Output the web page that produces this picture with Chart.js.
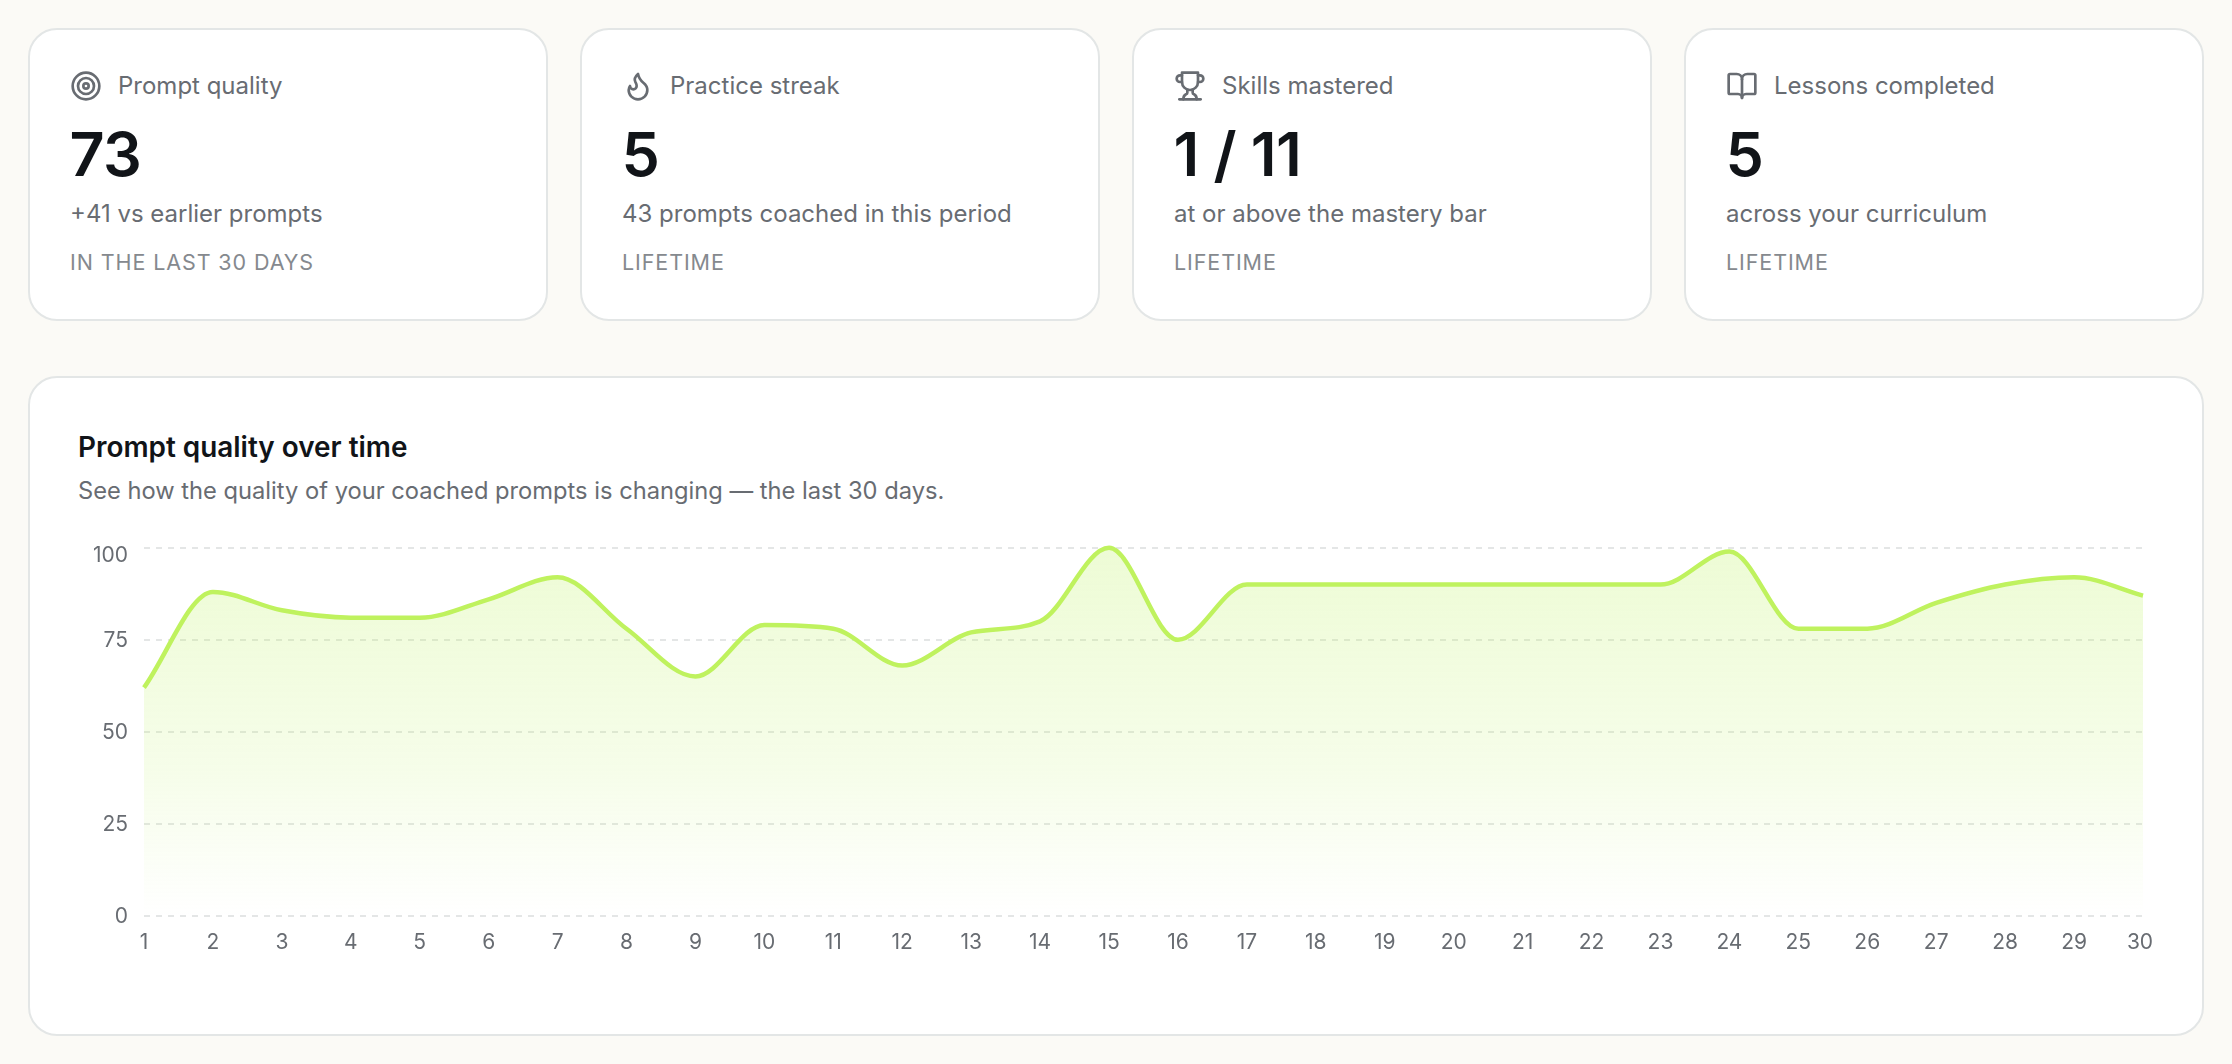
<!DOCTYPE html>
<html><head><meta charset="utf-8">
<script src="https://cdn.jsdelivr.net/npm/chart.js@4"></script>
<style>
html,body{margin:0;padding:0;background:#fbfaf6;width:2232px;height:1064px;overflow:hidden;font-family:Inter,sans-serif}
.card{position:absolute;top:28px;width:519.5px;height:293px;box-sizing:border-box;background:#fff;border:2px solid #e3e6e6;border-radius:29px}
.t{position:absolute;white-space:nowrap;line-height:1}
.ico{position:absolute;left:40px;top:39.5px;width:32px;height:32px;fill:none;stroke:#686c72;stroke-width:2;stroke-linecap:round;stroke-linejoin:round}
.lab{left:88px;top:43.5px;font-size:24px;color:#686c72}
.val{left:39.5px;top:93.5px;font-size:61px;font-weight:600;color:#111418;letter-spacing:-.6px}
.sub{left:40px;top:171.5px;font-size:24px;color:#686c72}
.per{left:40px;top:221.5px;font-size:21.5px;color:#85898e;letter-spacing:.9px}
#panel{position:absolute;left:28px;top:376px;width:2175.5px;height:660px;box-sizing:border-box;background:#fff;border:2px solid #e3e6e6;border-radius:29px}
#title{position:absolute;left:78px;top:433.5px;font-size:27.9px;font-weight:600;color:#111418}
#desc{position:absolute;left:78px;top:478.5px;font-size:23.7px;color:#686c72}
#wrap{position:absolute;left:78px;top:529px;width:2092px;height:430px}
</style></head><body>
<div class="card" style="left:28px"><svg class="ico" viewBox="0 0 24 24"><circle cx="12" cy="12" r="10"/><circle cx="12" cy="12" r="6"/><circle cx="12" cy="12" r="2"/></svg><div class="t lab">Prompt quality</div><div class="t val">73</div><div class="t sub">+41 vs earlier prompts</div><div class="t per">IN THE LAST 30 DAYS</div></div>
<div class="card" style="left:580px"><svg class="ico" viewBox="0 0 24 24"><path d="M8.5 14.5A2.5 2.5 0 0 0 11 12c0-1.38-.5-2-1-3-1.072-2.143-.224-4.054 2-6 .5 2.5 2 4.9 4 6.5 2 1.6 3 3.5 3 5.5a7 7 0 1 1-14 0c0-1.153.433-2.294 1-3a2.5 2.5 0 0 0 2.5 2.5z"/></svg><div class="t lab">Practice streak</div><div class="t val">5</div><div class="t sub">43 prompts coached in this period</div><div class="t per">LIFETIME</div></div>
<div class="card" style="left:1132px"><svg class="ico" viewBox="0 0 24 24"><path d="M6 9H4.5a2.5 2.5 0 0 1 0-5H6"/><path d="M18 9h1.5a2.5 2.5 0 0 0 0-5H18"/><path d="M4 22h16"/><path d="M10 14.66V17c0 .55-.47.98-.97 1.21C7.85 18.75 7 20.24 7 22"/><path d="M14 14.66V17c0 .55.47.98.97 1.21C16.15 18.75 17 20.24 17 22"/><path d="M18 2H6v7a6 6 0 0 0 12 0V2Z"/></svg><div class="t lab">Skills mastered</div><div class="t val">1 / 11</div><div class="t sub">at or above the mastery bar</div><div class="t per">LIFETIME</div></div>
<div class="card" style="left:1684px"><svg class="ico" viewBox="0 0 24 24"><path d="M12 7v14"/><path d="M3 18a1 1 0 0 1-1-1V4a1 1 0 0 1 1-1h5a4 4 0 0 1 4 4 4 4 0 0 1 4-4h5a1 1 0 0 1 1 1v13a1 1 0 0 1-1 1h-6a3 3 0 0 0-3 3 3 3 0 0 0-3-3z"/></svg><div class="t lab">Lessons completed</div><div class="t val">5</div><div class="t sub">across your curriculum</div><div class="t per">LIFETIME</div></div>
<div id="panel"></div>
<div id="title" class="t">Prompt quality over time</div>
<div id="desc" class="t">See how the quality of your coached prompts is changing — the last 30 days.</div>
<div id="wrap"><canvas id="c"></canvas></div>
<script>
const dayLabels = ['1','2','3','4','5','6','7','8','9','10','11','12','13','14','15','16','17','18','19','20','21','22','23','24','25','26','27','28','29','30'];
const qualityValues = [62,88,83,81,81,86,92,78,65,79,78,68,77,80,100,75,90,90,90,90,90,90,90,99,78,78,85,90,92,87];
const yTickValues = [0,25,50,75,100];

const nudgeEdgeLabels = {
  id:'nudgeEdgeLabels',
  beforeDraw(chart){
    chart.scales.y.getLabelItems().forEach(it=>{
      const tr=it.options.translation;
      it.options.translation=[tr[0],tr[1]+(it.label==='100'?8:1)];
    });
    chart.scales.x.getLabelItems().forEach(it=>{ if(it.label==='30') it.options.translation=[it.options.translation[0]-3,it.options.translation[1]]; });
  }
};
new Chart(document.getElementById('c'),{
  type:'line',
  data:{labels:dayLabels,datasets:[{
    data:qualityValues,clip:6,
    borderColor:'#bff25e',borderWidth:4.5,pointRadius:0,
    cubicInterpolationMode:'monotone',fill:'origin',
    backgroundColor(ctx){
      const a=ctx.chart.chartArea; if(!a) return 'rgba(190,242,100,.3)';
      const g=ctx.chart.ctx.createLinearGradient(0,a.top,0,a.bottom);
      g.addColorStop(0,'rgba(190,242,100,.27)');
      g.addColorStop(.6,'rgba(190,242,100,.14)');
      g.addColorStop(1,'rgba(190,242,100,0)');
      return g;
    }
  }]},
  plugins:[nudgeEdgeLabels],
  options:{
    responsive:true,maintainAspectRatio:false,animation:false,
    layout:{padding:{top:18.8,right:27,left:0,bottom:0}},
    plugins:{legend:{display:false},tooltip:{enabled:false}},
    scales:{
      x:{
        grid:{display:false,drawTicks:false},border:{display:false},
        ticks:{color:'#686c72',font:{family:'Inter',size:21},padding:14,maxRotation:0,autoSkip:false},
        afterFit(s){s.height=43.4;s.paddingLeft=0;s.paddingRight=0;}
      },
      y:{
        min:0,max:100,
        afterBuildTicks(s){s.ticks=yTickValues.map(v=>({value:v}));},
        grid:{color:'#e4e6e6',lineWidth:2,drawTicks:false},
        border:{display:false,dash:[6,6]},
        ticks:{color:'#686c72',font:{family:'Inter',size:21},padding:16},
        afterFit(s){s.width=66;s.paddingTop=0;s.paddingBottom=0;}
      }
    }
  }
});
</script></body></html>
